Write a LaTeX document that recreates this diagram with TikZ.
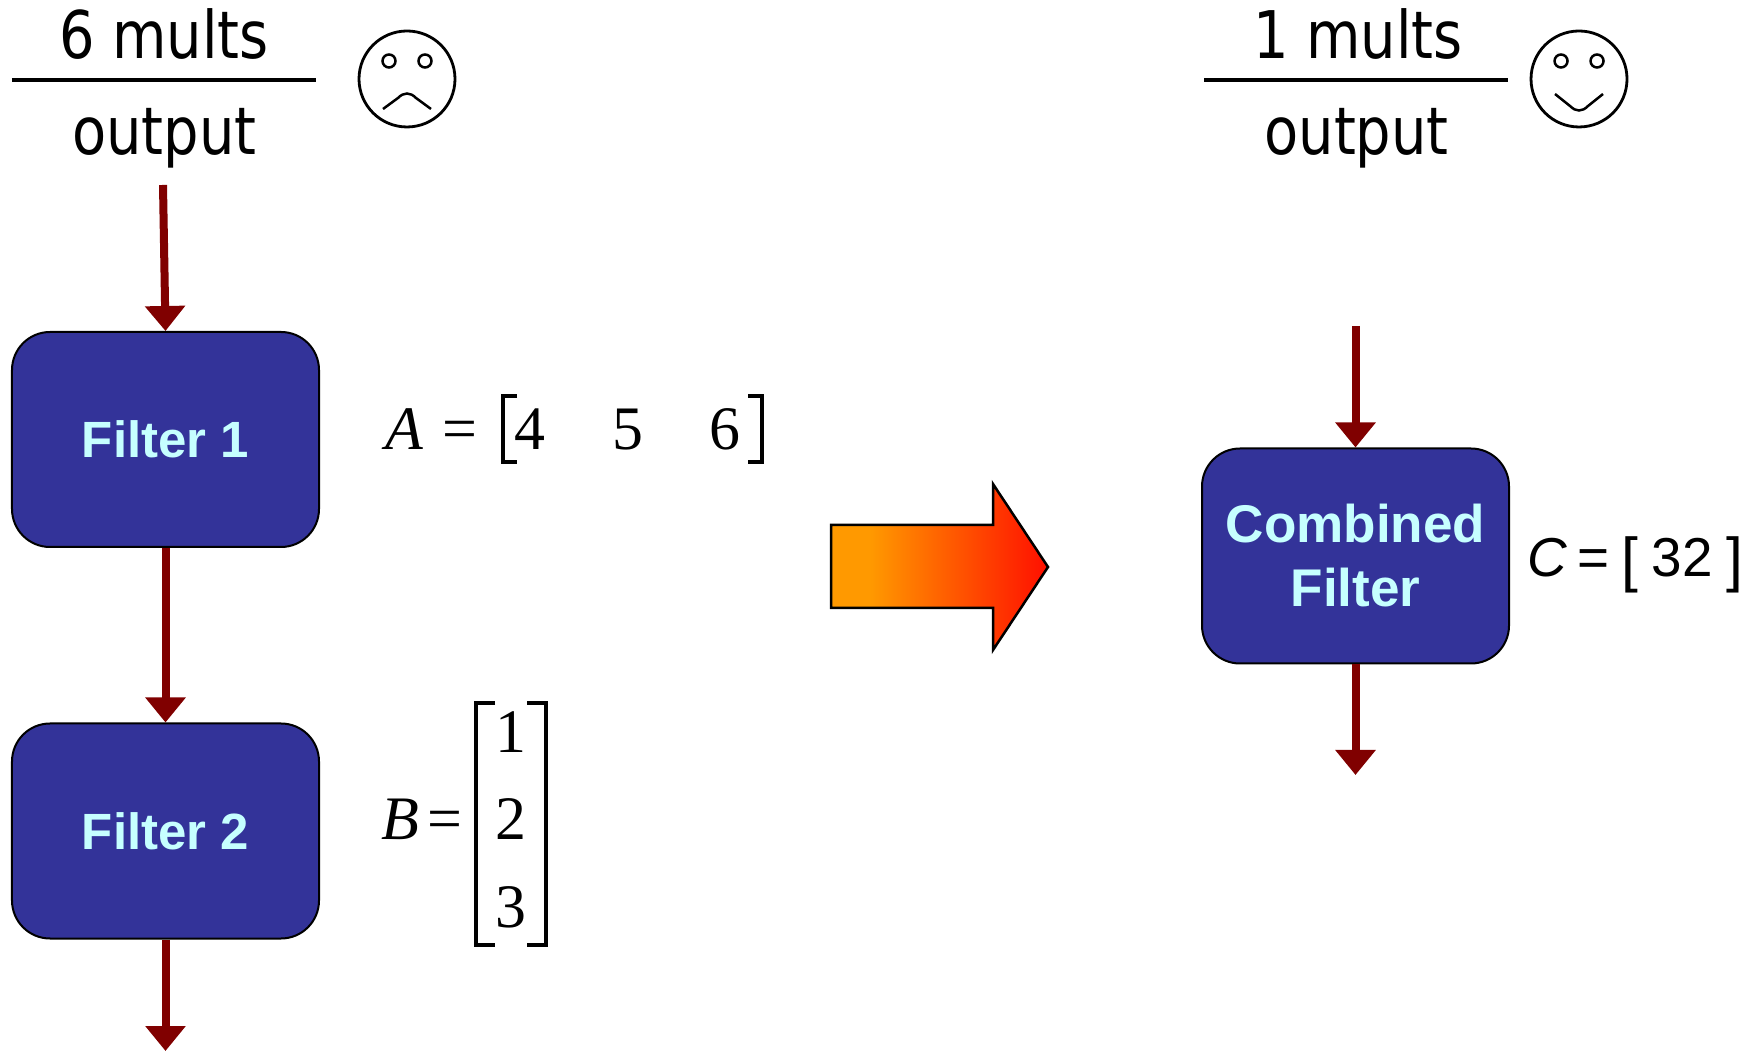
\documentclass[tikz,border=0pt]{standalone}
\usepackage{fontspec}
\usepackage{xcolor}
\usetikzlibrary{arrows.meta}
\setmainfont{Liberation Serif}
\setsansfont{Liberation Sans}
\newfontfamily\multsfont[FakeStretch=0.85]{DejaVu Sans}
\definecolor{filter-blue}{HTML}{333399}
\definecolor{filter-text}{HTML}{C6FFFF}
\definecolor{flow-red}{HTML}{800000}
\definecolor{shade-orange}{HTML}{FF9900}
\definecolor{shade-red}{HTML}{FF0F00}
\pgfdeclarehorizontalshading{bigarrowshade}{100bp}{color(0bp)=(shade-orange); color(34bp)=(shade-orange); color(75bp)=(shade-red); color(100bp)=(shade-red)}
\tikzset{
  filterbox/.style={draw=black, line width=0.02cm, fill=filter-blue, rounded corners=0.38cm,
    minimum width=3.07cm, minimum height=2.15cm, align=center, text=filter-text,
    outer sep=0.01cm, font=\sffamily\bfseries\fontsize{15.1}{18.2}\selectfont},
  smallfilter/.style={font=\sffamily\bfseries\fontsize{14.5}{18.2}\selectfont},
  flow/.style={-{Triangle[length=0.25cm,width=0.39cm]}, line width=0.08cm, flow-red},
  fracbar/.style={line width=0.04cm},
  fractext/.style={anchor=base, font=\multsfont\fontsize{18.7}{22}\selectfont},
  face/.style={draw, circle, line width=0.028cm, minimum size=0.96cm, inner sep=0pt},
  eye/.style={draw, circle, line width=0.025cm, minimum size=0.13cm, inner sep=0pt},
  mouth/.style={line width=0.025cm},
  mathtext/.style={anchor=base, inner sep=0pt, font=\fontsize{17.6}{22}\selectfont},
  ctext/.style={anchor=base, inner sep=0pt, font=\sffamily\fontsize{15.6}{20}\selectfont},
  cbracket/.style={anchor=base, inner sep=0pt, font=\sffamily\fontsize{17.2}{20}\selectfont},
  bracket/.style={line width=0.04cm},
  tallbracket/.style={line width=0.033cm}
}
\begin{document}
\begin{tikzpicture}
  \useasboundingbox (0,0) rectangle (17.56,10.51);
  % left chain
  \node[filterbox, smallfilter] (f1) at (1.655, 6.115) {\raisebox{-0.03cm}{Filter 1}};
  \node[filterbox, smallfilter] (f2) at (1.655, 2.2) {\raisebox{-0.03cm}{Filter 2}};
  \coordinate (in1) at (1.63, 8.66);
  \coordinate (out1) at (1.655, 0);
  \draw[flow] (in1) -- (f1.north);
  \draw[flow] (f1.south) -- (f2.north);
  \draw[flow] (f2.south) -- (out1);
  % left ratio
  \node[fractext] (m1) at (1.64, 9.92) {6 mults};
  \coordinate (b1l) at (0.12, 9.71);
  \coordinate (b1r) at (3.16, 9.71);
  \draw[fracbar] (b1l) -- (b1r);
  \node[fractext] (o1) at (1.645, 8.965) {output};
  \node[face] (sad) at (4.07, 9.72) {};
  \node[eye] (sadl) at (3.89, 9.9) {};
  \node[eye] (sadr) at (4.25, 9.9) {};
  \draw[mouth] (3.83, 9.42) -- (3.98, 9.53) .. controls (4.04, 9.59) and (4.10, 9.59) .. (4.16, 9.53) -- (4.31, 9.42);
  % matrices
  \node[mathtext] (an) at (4.04, 6.01) {\textit{A}};
  \node[mathtext] (aeq) at (4.6, 6.01) {=};
  \node[mathtext] (a4) at (5.3, 6.01) {4};
  \node[mathtext] (a5) at (6.28, 6.01) {5};
  \node[mathtext] (a6) at (7.25, 6.01) {6};
  \draw[bracket] (5.17, 6.55) -- (5.03, 6.55) -- (5.03, 5.89) -- (5.17, 5.89);
  \draw[bracket] (7.48, 6.55) -- (7.62, 6.55) -- (7.62, 5.89) -- (7.48, 5.89);
  \node[mathtext] (bn) at (4.0, 2.11) {\textit{B}};
  \node[mathtext] (beq) at (4.45, 2.11) {=};
  \node[mathtext] (b1) at (5.11, 2.98) {1};
  \node[mathtext] (b2) at (5.11, 2.11) {2};
  \node[mathtext] (b3) at (5.11, 1.24) {3};
  \draw[tallbracket] (4.95, 3.48) -- (4.76, 3.48) -- (4.76, 1.06) -- (4.95, 1.06);
  \draw[tallbracket] (5.27, 3.48) -- (5.46, 3.48) -- (5.46, 1.06) -- (5.27, 1.06);
  % big arrow
  \draw[line width=0.025cm, shading=bigarrowshade] (8.31, 5.26) -- (9.93, 5.26) -- (9.93, 5.67)
    -- (10.48, 4.84) -- (9.93, 4.01) -- (9.93, 4.43) -- (8.31, 4.43) -- cycle;
  % right side
  \node[filterbox] (cf) at (13.555, 4.95) {\raisebox{-0.02cm}{Combined}\\\raisebox{-0.02cm}{Filter}};
  \coordinate (in2) at (13.555, 7.25);
  \coordinate (out2) at (13.555, 2.76);
  \draw[flow] (in2) -- (cf.north);
  \draw[flow] (cf.south) -- (out2);
  \node[fractext] (m2) at (13.58, 9.92) {1 mults};
  \coordinate (b2l) at (12.04, 9.71);
  \coordinate (b2r) at (15.08, 9.71);
  \draw[fracbar] (b2l) -- (b2r);
  \node[fractext] (o2) at (13.565, 8.965) {output};
  \node[face] (happy) at (15.79, 9.72) {};
  \node[eye] (happyl) at (15.61, 9.9) {};
  \node[eye] (happyr) at (15.97, 9.9) {};
  \draw[mouth] (15.55, 9.57) -- (15.70, 9.45) .. controls (15.76, 9.39) and (15.82, 9.39) .. (15.88, 9.45) -- (16.03, 9.57);
  \node[ctext] (cn) at (15.47, 4.74) {\textit{C}};
  \node[ctext] (ceq) at (15.93, 4.74) {=};
  \node[cbracket] (cl) at (16.3, 4.7) {[};
  \node[ctext] (cv) at (16.82, 4.74) {32};
  \node[cbracket] (cr) at (17.35, 4.7) {]};
\end{tikzpicture}
\end{document}
